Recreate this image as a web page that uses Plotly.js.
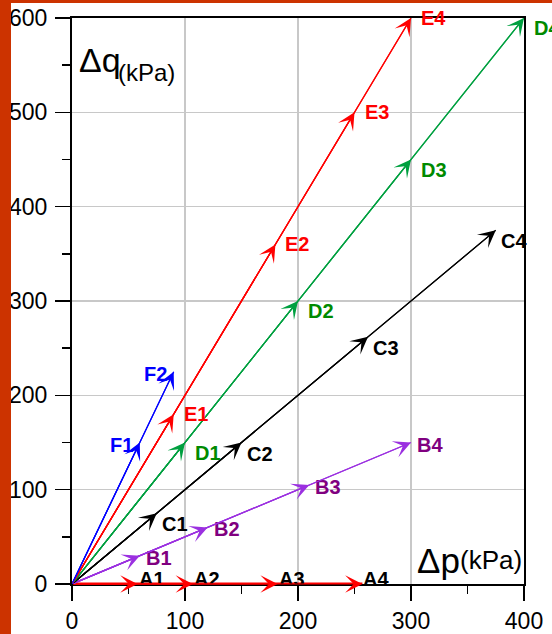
<!DOCTYPE html>
<html><head><meta charset="utf-8">
<script src="https://cdn.plot.ly/plotly-3.0.1.min.js"></script>
<style>
html,body{margin:0;padding:0;background:#fff;}
#chart{position:absolute;left:0;top:0;width:552px;height:634px;}
.strip{position:absolute;background:#CC3300;}
</style></head><body>
<div id="chart"></div>
<div class="strip" style="left:0;top:0;width:11px;height:634px"></div>
<div class="strip" style="left:0;top:0;width:552px;height:3px"></div>
<script>
// ---- data (Δp, Δq in kPa) ----
const seriesNames = ['A', 'B', 'C', 'D', 'E', 'F'];
const pA = [58, 107, 182, 257];
const qA = [0, 0, 0, 0];
const pB = [60, 120, 210, 300];
const qB = [30, 60, 105, 150];
const pC = [75, 150, 262, 375];
const qC = [75, 150, 262, 375];
const pD = [100, 200, 300, 400];
const qD = [150, 300, 450, 600];
const pE = [90, 180, 250, 300];
const qE = [180, 360, 500, 600];
const pF = [60, 90];
const qF = [150, 225];
const xTickVals = [0, 100, 200, 300, 400];
const yTickVals = [0, 100, 200, 300, 400, 500, 600];

// ---- styles ----
const FONT = 'Liberation Sans, Arial, sans-serif';
const style = {
  A: {line: '#FF0000', label: '#000000', width: 3, xanchor: 'left', xshift: -1, yshift: 5},
  B: {line: '#9B30E0', label: '#800080', width: 1.2, xanchor: 'left', xshift: 4, yshift: -2},
  C: {line: '#000000', label: '#000000', width: 1.2, xanchor: 'left', xshift: 3, yshift: -11},
  D: {line: '#00A040', label: '#008A00', width: 1.2, xanchor: 'left', xshift: 8, yshift: -10},
  E: {line: '#FF0000', label: '#FF0000', width: 1.2, xanchor: 'left', xshift: 8, yshift: 0},
  F: {line: '#0000FF', label: '#0000FF', width: 1.2, xanchor: 'right', xshift: -5, yshift: -2}
};
const dataP = {A: pA, B: pB, C: pC, D: pD, E: pE, F: pF};
const dataQ = {A: qA, B: qB, C: qC, D: qD, E: qE, F: qF};

const traces = [];
const annotations = [];
seriesNames.forEach(function (s) {
  const st = style[s];
  const P = dataP[s], Q = dataQ[s];
  traces.push({
    type: 'scatter', mode: 'lines',
    x: [0].concat(P), y: [0].concat(Q),
    line: {color: st.line, width: st.width},
    hoverinfo: 'skip'
  });
  P.forEach(function (p, i) {
    annotations.push({
      x: p, y: Q[i], xref: 'x', yref: 'y',
      ax: 0, ay: 0, axref: 'x', ayref: 'y',
      text: '', showarrow: true, arrowhead: 3, arrowsize: 2.4,
      arrowwidth: 1.2, arrowcolor: st.line, standoff: 0
    });
    annotations.push({
      x: p, y: Q[i], xref: 'x', yref: 'y',
      text: '<b>' + s + (i + 1) + '</b>', showarrow: false,
      xanchor: st.xanchor, yanchor: 'middle',
      xshift: st.xshift, yshift: st.yshift,
      font: {family: FONT, size: 20, color: st.label}
    });
  });
});

// axis titles drawn inside the plot
annotations.push({xref: 'paper', yref: 'paper', x: 0.012, y: 0.926, xanchor: 'left', yanchor: 'middle',
  text: 'Δq', showarrow: false, font: {family: FONT, size: 34, color: '#000'}});
annotations.push({xref: 'paper', yref: 'paper', x: 0.098, y: 0.903, xanchor: 'left', yanchor: 'middle',
  text: '(kPa)', showarrow: false, font: {family: FONT, size: 24, color: '#000'}});
annotations.push({xref: 'paper', yref: 'paper', x: 0.758, y: 0.042, xanchor: 'left', yanchor: 'middle',
  text: 'Δp', showarrow: false, font: {family: FONT, size: 35, color: '#000'}});
annotations.push({xref: 'paper', yref: 'paper', x: 0.853, y: 0.042, xanchor: 'left', yanchor: 'middle',
  text: '(kPa)', showarrow: false, font: {family: FONT, size: 26, color: '#000'}});

function axis(range, vals, standoff) {
  return {
    range: range, tickmode: 'array', tickvals: vals,
    ticks: 'outside', ticklen: 15, tickwidth: 1.5, tickcolor: '#000',
    ticklabelstandoff: standoff,
    showline: true, linecolor: '#000', linewidth: 2, mirror: true,
    showgrid: true, gridcolor: '#C8C8C8', gridwidth: 1.5,
    zeroline: false, fixedrange: true,
    tickfont: {family: FONT, size: 23, color: '#000'},
    minor: {dtick: 50, ticks: 'outside', ticklen: 8, tickwidth: 1.5, tickcolor: '#000', showgrid: false},
    layer: 'below traces'
  };
}

const layout = {
  width: 552, height: 634,
  margin: {l: 72, r: 28, t: 18, b: 50},
  paper_bgcolor: '#fff', plot_bgcolor: '#fff',
  showlegend: false,
  xaxis: axis([0, 400], xTickVals, 0),
  yaxis: axis([0, 600], yTickVals, 3),
  annotations: annotations
};

Plotly.newPlot('chart', traces, layout, {displayModeBar: false, staticPlot: true});
</script>
</body></html>
